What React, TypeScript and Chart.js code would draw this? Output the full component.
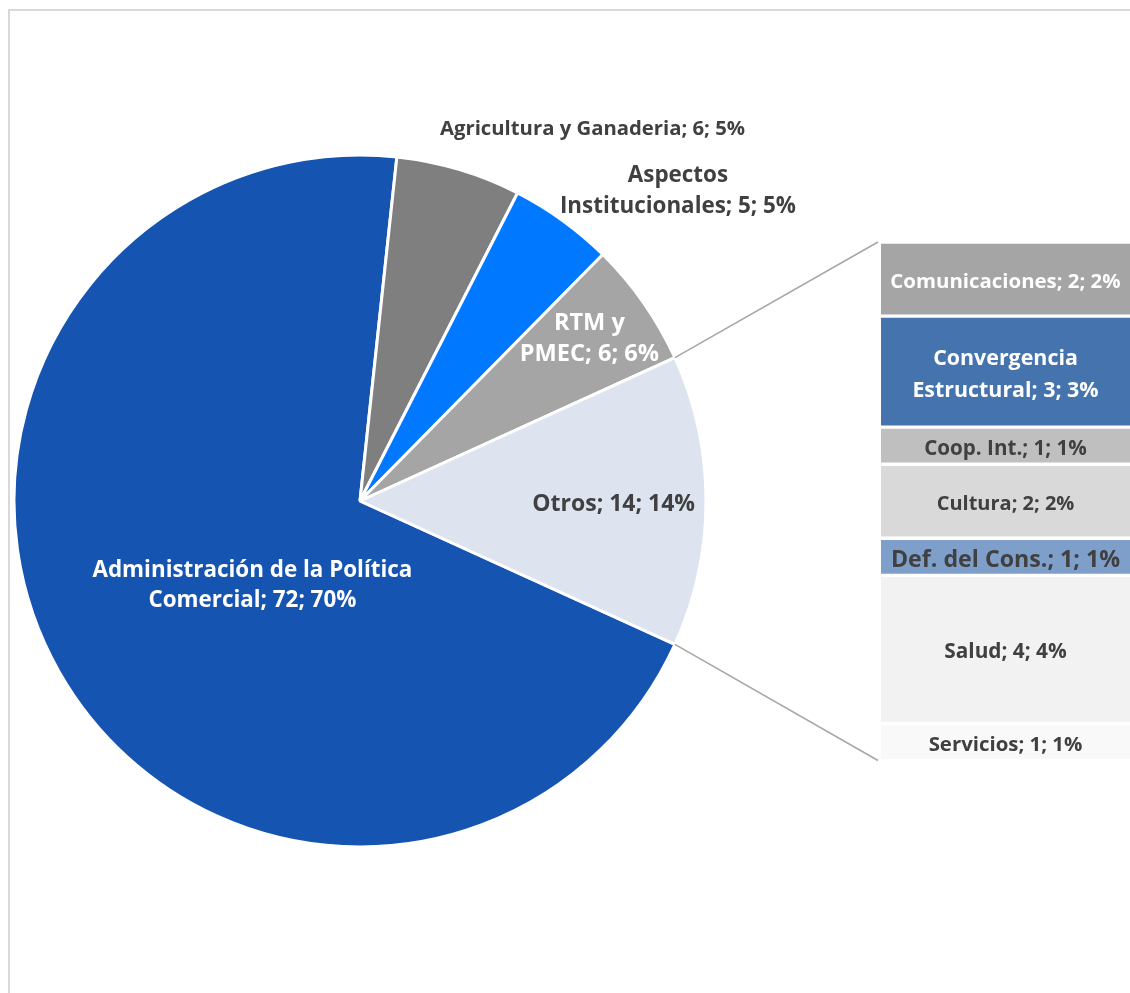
import React, { useEffect, useRef } from 'react';
import { Chart, registerables } from 'chart.js';

Chart.register(...registerables);

// ---------- data ----------
const mainLabels = [
  'Administración de la Política Comercial',
  'Agricultura y Ganaderia',
  'Aspectos Institucionales',
  'RTM y PMEC',
  'Otros',
];
const mainValues = [72, 6, 5, 6, 14];
const mainPercents = ['70%', '5%', '5%', '6%', '14%'];
const mainColors = ['#1554B0', '#7F7F7F', '#0078FF', '#A5A5A5', '#DDE3EF'];

const otrosLabels = [
  'Comunicaciones',
  'Convergencia Estructural',
  'Coop. Int.',
  'Cultura',
  'Def. del Cons.',
  'Salud',
  'Servicios',
];
const otrosValues = [2, 3, 1, 2, 1, 4, 1];
const otrosPercents = ['2%', '3%', '1%', '2%', '1%', '4%', '1%'];
const otrosColors = ['#A5A5A5', '#4573AD', '#BFBFBF', '#D9D9D9', '#7F9FCB', '#F2F2F2', '#F9F9F9'];

// ---------- styles / layout ----------
const FONT = '"Open Sans", "Noto Sans", "DejaVu Sans", sans-serif';
const WRAP_W = 1300;
const VISIBLE_RIGHT = 1122;
const VIEW_H = 985;
const DARK = '#404040';

// label placement relative to pie centre (in radius units)
const mainLabelStyle = [
  { dx: -0.311, dy: 0.24, size: 22.4, color: '#FFFFFF', breakAfter: 4, lh: 30 },
  { dx: 0.672, dy: -1.078, size: 20.3, color: DARK, breakAfter: 0, lh: 28 },
  { dx: 0.919, dy: -0.9, size: 22.4, color: DARK, breakAfter: 1, lh: 31 },
  { dx: 0.663, dy: -0.475, size: 23.6, color: '#FFFFFF', breakAfter: 2, lh: 31 },
  { dx: 0.733, dy: 0.006, size: 23, color: DARK, breakAfter: 0, lh: 30 },
];
const otrosLabelStyle = [
  { size: 20.4, color: '#FFFFFF', breakAfter: 0, lh: 30 },
  { size: 21.4, color: '#FFFFFF', breakAfter: 1, lh: 32 },
  { size: 20.6, color: DARK, breakAfter: 0, lh: 30 },
  { size: 20, color: DARK, breakAfter: 0, lh: 30 },
  { size: 23.2, color: DARK, breakAfter: 0, lh: 30 },
  { size: 20.8, color: DARK, breakAfter: 0, lh: 30 },
  { size: 20.4, color: DARK, breakAfter: 0, lh: 30 },
];

function makeLines(name: string, value: number, pct: string, breakAfter: number): string[] {
  const full = `${name}; ${value}; ${pct}`;
  if (!breakAfter) return [full];
  const words = full.split(' ');
  return [words.slice(0, breakAfter).join(' '), words.slice(breakAfter).join(' ')];
}

function drawLabel(
  ctx: CanvasRenderingContext2D,
  lines: string[],
  cx: number,
  cy: number,
  size: number,
  color: string,
  lh: number
) {
  ctx.save();
  ctx.font = `bold ${size}px ${FONT}`;
  ctx.fillStyle = color;
  ctx.textAlign = 'center';
  ctx.textBaseline = 'alphabetic';
  const capH = 0.714 * size;
  const first = cy - ((lines.length - 1) * lh) / 2 + capH / 2;
  lines.forEach((l, i) => ctx.fillText(l, cx, first + i * lh));
  ctx.restore();
}

export default function App() {
  const pieRef = useRef<HTMLCanvasElement>(null);
  const barRef = useRef<HTMLCanvasElement>(null);

  useEffect(() => {
    const prevHtml = document.documentElement.style.overflow;
    document.documentElement.style.overflow = 'hidden';
    Chart.defaults.font.family = FONT;

    const total = mainValues.reduce((a, b) => a + b, 0);
    const lastIdx = mainValues.length - 1;
    const rotation = 90 + (mainValues[lastIdx] / total) * 180;

    const pieLabelPlugin = {
      id: 'pieLabels',
      afterDatasetsDraw(chart: any) {
        const ctx = chart.ctx as CanvasRenderingContext2D;
        const meta = chart.getDatasetMeta(0);
        meta.data.forEach((arc: any, i: number) => {
          const { x, y, outerRadius } = arc.getProps(['x', 'y', 'outerRadius'], true);
          const st = mainLabelStyle[i];
          const lines = makeLines(mainLabels[i], mainValues[i], mainPercents[i], st.breakAfter);
          drawLabel(ctx, lines, x + st.dx * outerRadius, y + st.dy * outerRadius, st.size, st.color, st.lh);
        });
      },
    };

    const pie = new Chart(pieRef.current!, {
      type: 'pie',
      data: {
        labels: mainLabels,
        datasets: [
          {
            data: mainValues,
            backgroundColor: mainColors,
            borderColor: '#FFFFFF',
            borderWidth: 3,
          },
        ],
      },
      options: {
        responsive: false,
        animation: false,
        devicePixelRatio: 1,
        rotation,
        events: [],
        layout: { padding: { left: 4.5, top: 145.5, right: 1122 - 4.5 - 695, bottom: 144.5 } },
        plugins: { legend: { display: false }, tooltip: { enabled: false } },
      },
      plugins: [pieLabelPlugin],
    } as any);

    const barPlugin = {
      id: 'barLabelsAndConnectors',
      afterDatasetsDraw(chart: any) {
        const ctx = chart.ctx as CanvasRenderingContext2D;
        const area = chart.chartArea;
        let top = Infinity;
        let bottom = -Infinity;
        let left = area.left;
        const cx = (area.left + VISIBLE_RIGHT) / 2;
        chart.data.datasets.forEach((_: any, i: number) => {
          const el = chart.getDatasetMeta(i).data[0];
          const p = el.getProps(['x', 'y', 'base', 'width'], true);
          const t = Math.min(p.y, p.base);
          const b = Math.max(p.y, p.base);
          top = Math.min(top, t);
          bottom = Math.max(bottom, b);
          left = p.x - p.width / 2;
          const st = otrosLabelStyle[i];
          const lines = makeLines(otrosLabels[i], otrosValues[i], otrosPercents[i], st.breakAfter);
          drawLabel(ctx, lines, cx, (t + b) / 2 + 1.5, st.size, st.color, st.lh);
        });
        // connector lines from the "Otros" slice to the bar
        const arc = pie.getDatasetMeta(0).data[lastIdx] as any;
        const a = arc.getProps(['x', 'y', 'startAngle', 'endAngle', 'outerRadius'], true);
        ctx.save();
        ctx.strokeStyle = '#A6A6A6';
        ctx.lineWidth = 1.5;
        ctx.beginPath();
        ctx.moveTo(a.x + Math.cos(a.startAngle) * a.outerRadius, a.y + Math.sin(a.startAngle) * a.outerRadius);
        ctx.lineTo(left - 3, top);
        ctx.moveTo(a.x + Math.cos(a.endAngle) * a.outerRadius, a.y + Math.sin(a.endAngle) * a.outerRadius);
        ctx.lineTo(left - 3, bottom);
        ctx.stroke();
        ctx.restore();
      },
    };

    const bar = new Chart(barRef.current!, {
      type: 'bar',
      data: {
        labels: ['Otros'],
        datasets: otrosLabels.map((l, i) => ({
          label: l,
          data: [otrosValues[i]],
          backgroundColor: otrosColors[i],
          borderColor: '#FFFFFF',
          borderWidth: { top: 2, bottom: 2, left: 0, right: 0 },
          borderSkipped: false,
          barPercentage: 1,
          categoryPercentage: 1,
          stack: 'otros',
        })),
      },
      options: {
        responsive: false,
        animation: false,
        devicePixelRatio: 1,
        events: [],
        layout: { padding: { left: 873, right: 0, top: 234, bottom: 232.5 } },
        scales: {
          x: { display: false, stacked: true },
          y: {
            display: false,
            stacked: true,
            reverse: true,
            min: 0,
            max: otrosValues.reduce((a, b) => a + b, 0),
          },
        },
        plugins: { legend: { display: false }, tooltip: { enabled: false } },
      },
      plugins: [barPlugin],
    } as any);

    return () => {
      bar.destroy();
      pie.destroy();
      document.documentElement.style.overflow = prevHtml;
    };
  }, []);

  return (
    <div
      style={{
        position: 'fixed',
        left: 8,
        top: 8,
        width: WRAP_W,
        height: VIEW_H,
        overflow: 'hidden',
        background: '#FFFFFF',
      }}
    >
      <div
        style={{
          position: 'absolute',
          left: 0,
          top: 1,
          width: 2000,
          height: 2000,
          border: '2px solid #D9D9D9',
          boxSizing: 'border-box',
        }}
      />
      <canvas
        ref={pieRef}
        width={1122}
        height={VIEW_H}
        style={{ position: 'absolute', left: 0, top: 0, width: 1122, height: VIEW_H }}
      />
      <canvas
        ref={barRef}
        width={WRAP_W}
        height={VIEW_H}
        style={{ position: 'absolute', left: 0, top: 0, width: WRAP_W, height: VIEW_H }}
      />
    </div>
  );
}
